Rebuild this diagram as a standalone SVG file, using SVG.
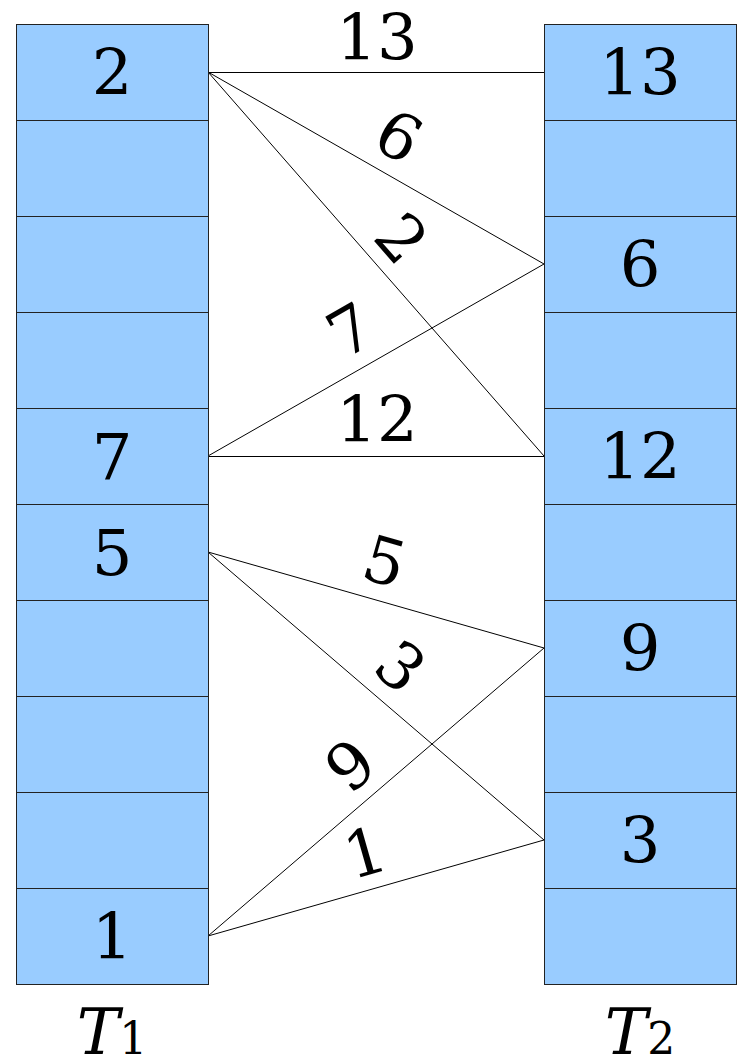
<svg xmlns="http://www.w3.org/2000/svg" width="737" height="1062" viewBox="0 0 737 1062">
<style>
.cell{fill:#99ccff;stroke:#222;stroke-width:1}
.num{font-family:"DejaVu Serif",serif;font-size:64px;text-anchor:middle;fill:#000}
.lbl{font-family:"DejaVu Serif",serif;font-size:64px;text-anchor:middle;fill:#000}
.edge{stroke:#000;stroke-width:1;fill:none}
.cap{font-family:"DejaVu Serif",serif;font-size:64px;text-anchor:middle;fill:#000}
</style>
<rect width="737" height="1062" fill="#fff"/>
<g id="connectors">
<line class="edge" x1="208" y1="72.5" x2="544" y2="72.5"/>
<line class="edge" x1="208" y1="72" x2="544" y2="264"/>
<line class="edge" x1="208" y1="72" x2="544" y2="456"/>
<line class="edge" x1="208" y1="456" x2="544" y2="264"/>
<line class="edge" x1="208" y1="456.5" x2="544" y2="456.5"/>
<line class="edge" x1="208" y1="552" x2="544" y2="648"/>
<line class="edge" x1="208" y1="552" x2="544" y2="840"/>
<line class="edge" x1="208" y1="936" x2="544" y2="648"/>
<line class="edge" x1="208" y1="936" x2="544" y2="840"/>
<text class="lbl" x="377" y="60">13</text>
<text class="lbl" x="377" y="442">12</text>
<text class="lbl" transform="translate(399,136) rotate(29.74)" x="0" y="23">6</text>
<text class="lbl" transform="translate(402,238) rotate(48.81)" x="0" y="23">2</text>
<text class="lbl" transform="translate(350,330) rotate(-29.74)" x="0" y="23">7</text>
<text class="lbl" transform="translate(385,561) rotate(15.95)" x="0" y="23">5</text>
<text class="lbl" transform="translate(401,666) rotate(40.60)" x="0" y="23">3</text>
<text class="lbl" transform="translate(350,765) rotate(-40.60)" x="0" y="23">9</text>
<text class="lbl" transform="translate(365,852) rotate(-15.95)" x="0" y="23">1</text>
</g>
<g id="T1">
<rect class="cell" x="16.5" y="24.5" width="192" height="96"/>
<rect class="cell" x="16.5" y="120.5" width="192" height="96"/>
<rect class="cell" x="16.5" y="216.5" width="192" height="96"/>
<rect class="cell" x="16.5" y="312.5" width="192" height="96"/>
<rect class="cell" x="16.5" y="408.5" width="192" height="96"/>
<rect class="cell" x="16.5" y="504.5" width="192" height="96"/>
<rect class="cell" x="16.5" y="600.5" width="192" height="96"/>
<rect class="cell" x="16.5" y="696.5" width="192" height="96"/>
<rect class="cell" x="16.5" y="792.5" width="192" height="96"/>
<rect class="cell" x="16.5" y="888.5" width="192" height="96"/>
<text class="num" x="112" y="95">2</text>
<text class="num" x="112" y="479">7</text>
<text class="num" x="112" y="575">5</text>
<text class="num" x="112" y="959">1</text>
<text class="cap" x="112" y="1054"><tspan font-style="italic">T</tspan><tspan font-size="44">1</tspan></text>
</g>
<g id="T2">
<rect class="cell" x="544.5" y="24.5" width="192" height="96"/>
<rect class="cell" x="544.5" y="120.5" width="192" height="96"/>
<rect class="cell" x="544.5" y="216.5" width="192" height="96"/>
<rect class="cell" x="544.5" y="312.5" width="192" height="96"/>
<rect class="cell" x="544.5" y="408.5" width="192" height="96"/>
<rect class="cell" x="544.5" y="504.5" width="192" height="96"/>
<rect class="cell" x="544.5" y="600.5" width="192" height="96"/>
<rect class="cell" x="544.5" y="696.5" width="192" height="96"/>
<rect class="cell" x="544.5" y="792.5" width="192" height="96"/>
<rect class="cell" x="544.5" y="888.5" width="192" height="96"/>
<text class="num" x="640" y="95">13</text>
<text class="num" x="640" y="287">6</text>
<text class="num" x="640" y="479">12</text>
<text class="num" x="640" y="671">9</text>
<text class="num" x="640" y="863">3</text>
<text class="cap" x="640" y="1054"><tspan font-style="italic">T</tspan><tspan font-size="44">2</tspan></text>
</g>
</svg>
